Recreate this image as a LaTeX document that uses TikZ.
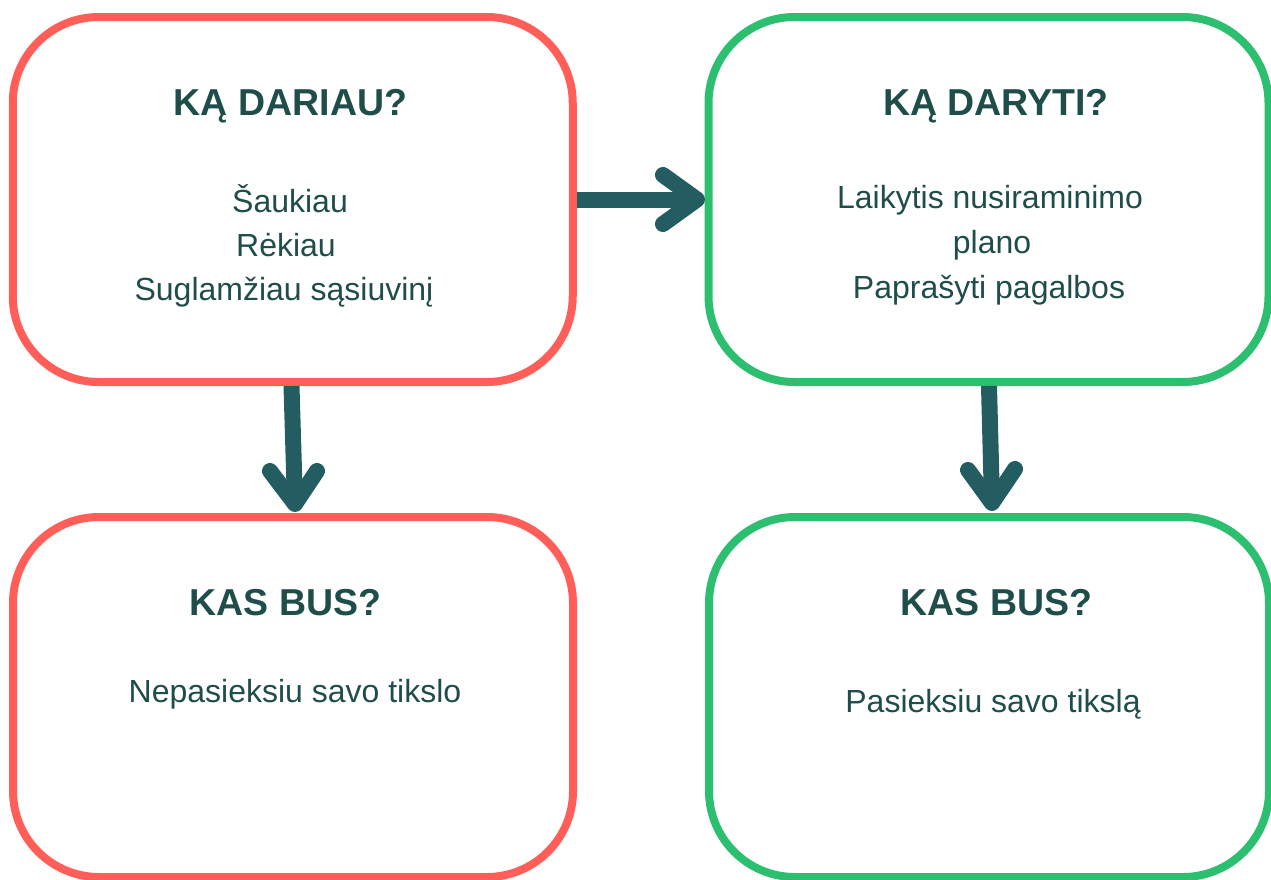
\documentclass[tikz,border=0pt]{standalone}
\usepackage{fontspec}
\setmainfont{Liberation Sans}
\usetikzlibrary{calc}
\definecolor{boxred}{HTML}{FF5F58}
\definecolor{boxgreen}{HTML}{2CBF70}
\definecolor{txt}{HTML}{1F4D4A}
\definecolor{arrcol}{HTML}{235D62}
\tikzset{
  card/.style={draw=#1, line width=8pt, rounded corners=86pt, inner sep=0pt, minimum width=560pt},
  ttl/.style={anchor=base, text=txt, inner sep=0pt, font=\fontsize{37.5}{40}\selectfont\bfseries},
  body/.style={anchor=base, text=txt, inner sep=0pt, font=\fontsize{32}{40}\selectfont},
  shaft/.style={draw=arrcol, line width=16pt},
  barb/.style={draw=arrcol, line width=16pt, line cap=round, line join=round}
}
\begin{document}
\begin{tikzpicture}[x=1pt,y=-1pt]
\useasboundingbox (0,0) rectangle (1271,879);
% boxes
\node[card=boxred, minimum height=365pt] (tl) at (292.75,199.5) {};
\node[card=boxgreen, minimum height=365pt] (tr) at (988.5,199.5) {};
\node[card=boxred, minimum height=360pt] (bl) at (293,697) {};
\node[card=boxgreen, minimum height=360pt] (br) at (989,697) {};
% texts
\node[ttl] (t1) at (290.5,115) {KĄ DARIAU?};
\node[body] (t1a) at (290,212) {Šaukiau};
\node[body] (t1b) at (286,256.5) {Rėkiau};
\node[body] (t1c) at (284,300) {Suglamžiau sąsiuvinį};
\node[ttl] (t2) at (996,115) {KĄ DARYTI?};
\node[body] (t2a) at (990,208) {Laikytis nusiraminimo};
\node[body] (t2b) at (992,253) {plano};
\node[body] (t2c) at (989,298) {Paprašyti pagalbos};
\node[ttl] (t3) at (285.5,615) {KAS BUS?};
\node[body] (t3a) at (295,702) {Nepasieksiu savo tikslo};
\node[ttl] (t4) at (996.5,615) {KAS BUS?};
\node[body] (t4a) at (993,712) {Pasieksiu savo tikslą};
% arrow tl -> tr
\coordinate (h1) at (697,199.5);
\draw[shaft] (tl.east) -- (h1);
\draw[barb] ($(h1)+(-34,-24.5)$) -- (h1) -- ($(h1)+(-34,24.5)$);
% arrow tl -> bl
\coordinate (v1) at (295,504);
\draw[shaft] ($(tl.south)+(-1.25,0)$) -- (v1);
\draw[barb] ($(v1)+(-25,-33)$) -- (v1) -- ($(v1)+(22,-33)$);
% arrow tr -> br
\coordinate (v2) at (992,503);
\draw[shaft] ($(tr.south)+(0.5,0)$) -- (v2);
\draw[barb] ($(v2)+(-24,-33)$) -- (v2) -- ($(v2)+(23,-34)$);
\end{tikzpicture}
\end{document}
